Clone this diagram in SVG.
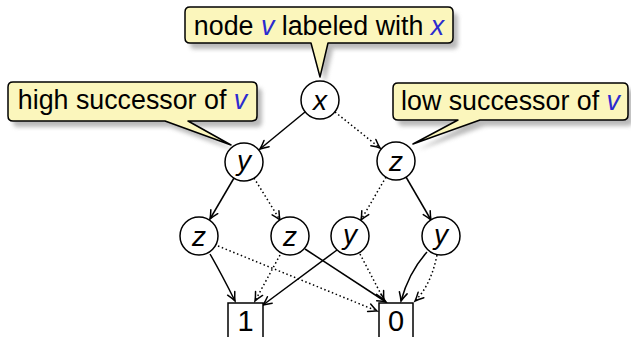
<svg xmlns="http://www.w3.org/2000/svg" width="631" height="337" viewBox="0 0 631 337">
  <defs>
    <style>
      .note { fill: #fbf6bc; stroke: #000; stroke-width: 1.5; stroke-linejoin: round; }
      .shadow { fill: #8c8c8c; opacity: 0.6; }
      .txt { font-family: "Liberation Sans", Arial, sans-serif; font-size: 26.8px; fill: #000; }
      .var { font-style: italic; fill: #2b2bcf; }
      .node circle, .node rect { fill: #fff; stroke: #000; stroke-width: 1.5; }
      .lbl { font-family: "Liberation Sans", Arial, sans-serif; font-size: 28px; font-style: italic; fill: #000; text-anchor: middle; }
      .num { font-family: "Liberation Sans", Arial, sans-serif; font-size: 29px; fill: #000; text-anchor: middle; }
      .hi { fill: none; stroke: #000; stroke-width: 1.5; marker-end: url(#tip); }
      .lo { fill: none; stroke: #000; stroke-width: 1.5; stroke-dasharray: 1.5 2.6; marker-end: url(#tip); }
    </style>
    <filter id="soft" x="-10%" y="-30%" width="120%" height="160%">
      <feGaussianBlur stdDeviation="2"/>
    </filter>
    <marker id="tip" viewBox="-10 -6 12 12" refX="0" refY="0" markerWidth="12" markerHeight="12" markerUnits="userSpaceOnUse" orient="auto">
      <path d="M -8.5 -4 Q -3 -1 0 0 Q -3 1 -8.5 4" fill="none" stroke="#000" stroke-width="1.5" stroke-linecap="round" stroke-dasharray="none"/>
    </marker>
  </defs>

  <!-- callout shadows -->
  <g class="shadow" filter="url(#soft)" transform="translate(5,6)">
    <path d="M190,7 H448 Q453,7 453,12 V38 Q453,43 448,43 H328 L320,77 L311,43 H190 Q185,43 185,38 V12 Q185,7 190,7 Z"/>
    <path d="M13,82 H252 Q257,82 257,87 V116 Q257,121 252,121 H188 L231,145 L165,121 H13 Q8,121 8,116 V87 Q8,82 13,82 Z"/>
    <path d="M398,83 H623 Q628,83 628,88 V115 Q628,120 623,120 H480 L413,144 L458,120 H398 Q393,120 393,115 V88 Q393,83 398,83 Z"/>
  </g>

  <!-- callouts -->
  <g id="note-node">
    <path class="note" d="M190,7 H448 Q453,7 453,12 V38 Q453,43 448,43 H328 L320,77 L311,43 H190 Q185,43 185,38 V12 Q185,7 190,7 Z"/>
    <text class="txt" x="319" y="35" text-anchor="middle">node <tspan class="var">v</tspan> labeled with <tspan class="var">x</tspan></text>
  </g>
  <g id="note-high">
    <path class="note" d="M13,82 H252 Q257,82 257,87 V116 Q257,121 252,121 H188 L231,145 L165,121 H13 Q8,121 8,116 V87 Q8,82 13,82 Z"/>
    <text class="txt" x="132.5" y="109" text-anchor="middle">high successor of <tspan class="var">v</tspan></text>
  </g>
  <g id="note-low">
    <path class="note" d="M398,83 H623 Q628,83 628,88 V115 Q628,120 623,120 H480 L413,144 L458,120 H398 Q393,120 393,115 V88 Q393,83 398,83 Z"/>
    <text class="txt" x="510.5" y="110" text-anchor="middle">low successor of <tspan class="var">v</tspan></text>
  </g>

  <!-- connectors: solid = high edge, dotted = low edge -->
  <g id="edges">
    <path class="hi" d="M305,112 L260,149"/>
    <path class="lo" d="M335,112 L380,148"/>
    <path class="hi" d="M234,178 L210,219"/>
    <path class="lo" d="M254,178 L280,220"/>
    <path class="lo" d="M386,177 L361,220"/>
    <path class="hi" d="M406,177 L431,220"/>
    <path class="hi" d="M210,254 Q222,275 235,301"/>
    <path class="lo" d="M218,246 L377,311"/>
    <path class="lo" d="M280,255 L255,301"/>
    <path class="hi" d="M305,249 L386,302"/>
    <path class="hi" d="M337,250 L263,305"/>
    <path class="lo" d="M360,254 L384,300"/>
    <path class="hi" d="M427,252 Q409,272 401,301"/>
    <path class="lo" d="M437,255 Q431,285 415,301"/>
  </g>

  <!-- decision nodes -->
  <g id="n-x" class="node"><circle cx="320" cy="100" r="19"/><text class="lbl" x="320" y="110">x</text></g>
  <g id="n-y1" class="node"><circle cx="244" cy="162" r="19"/><text class="lbl" x="244" y="170">y</text></g>
  <g id="n-z1" class="node"><circle cx="396" cy="161" r="19"/><text class="lbl" x="396" y="171">z</text></g>
  <g id="n-z2" class="node"><circle cx="199" cy="236" r="19"/><text class="lbl" x="199" y="246">z</text></g>
  <g id="n-z3" class="node"><circle cx="290" cy="236" r="19"/><text class="lbl" x="290" y="246">z</text></g>
  <g id="n-y2" class="node"><circle cx="350" cy="236" r="19"/><text class="lbl" x="350" y="244">y</text></g>
  <g id="n-y3" class="node"><circle cx="441" cy="236" r="19"/><text class="lbl" x="441" y="244">y</text></g>

  <!-- terminal nodes -->
  <g id="t-1" class="node"><rect x="228" y="303" width="35" height="36"/><text class="num" x="245.5" y="331">1</text></g>
  <g id="t-0" class="node"><rect x="379" y="303" width="34" height="36"/><text class="num" x="396" y="331">0</text></g>
</svg>
